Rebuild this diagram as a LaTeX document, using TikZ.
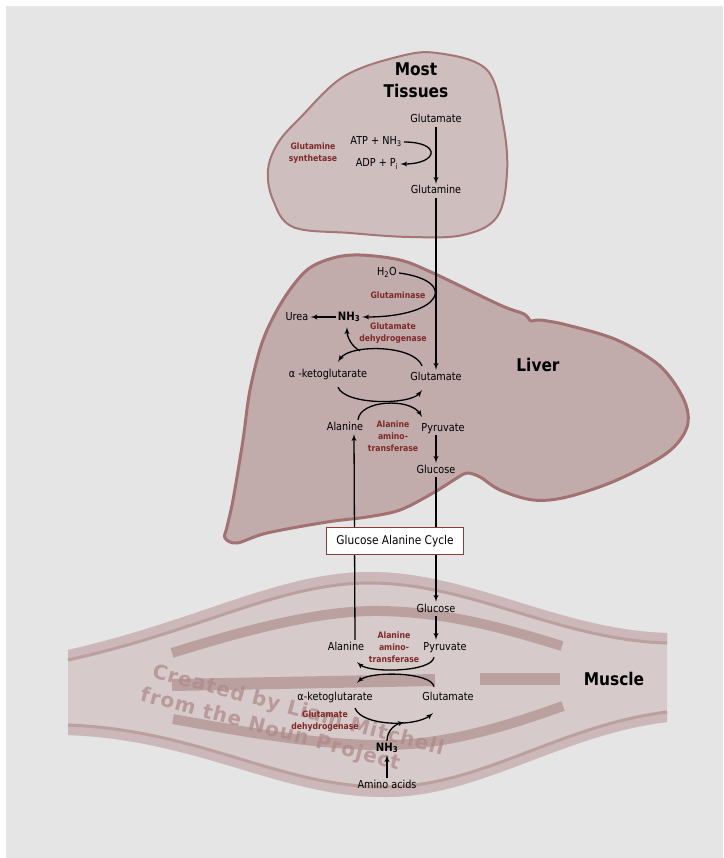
\documentclass[tikz,border=0pt]{standalone}
\usepackage{fontspec}
\setmainfont{DejaVu Sans}[FakeStretch=0.88]
\newfontfamily\markfont{DejaVu Sans}[LetterSpace=5]
\usetikzlibrary{arrows,calc}

\definecolor{bggray}{HTML}{E5E5E5}
\definecolor{tissuefill}{HTML}{CEBEBE}
\definecolor{tissueline}{HTML}{A47676}
\definecolor{liverfill}{HTML}{C1ABAB}
\definecolor{liverline}{HTML}{A27272}
\definecolor{musclefill}{HTML}{D7CACA}
\definecolor{muscleband}{HTML}{CCB8B8}
\definecolor{musclestripe}{HTML}{BBA0A0}
\definecolor{enzred}{HTML}{7F2A2A}
\definecolor{boxline}{HTML}{8B3A3A}
\definecolor{markred}{HTML}{B08A8A}

\begin{document}
\begin{tikzpicture}[x=1pt,y=-1pt,>=latex']
  \tikzset{
    met/.style={inner sep=2pt, text height=8pt, text depth=2pt, font=\fontsize{11}{13}\selectfont},
    ammonia/.style={met, font=\fontsize{11.5}{13}\selectfont\bfseries},
    enzyme/.style={inner sep=1pt, align=center, text=enzred, font=\fontsize{8.8}{12}\selectfont\bfseries},
    organ/.style={align=center, font=\fontsize{17.5}{22}\selectfont\bfseries},
    rxn/.style={->, line width=1.3pt},
    stripe/.style={musclestripe, line width=#1},
    watermark/.style={rotate=-15, text=markred, text opacity=0.75, font=\markfont\bfseries\fontsize{20}{24}\selectfont},
  }
  % background
  \fill[white] (0,0) rectangle (723,858);
  \fill[bggray] (6,6) rectangle (723,858);
  \useasboundingbox (0,0) rectangle (723,858);

  % most tissues
  \draw[tissueline, fill=tissuefill, line width=2pt]
    plot[smooth cycle, tension=0.6] coordinates {
      (437,53) (487,70) (503,123) (507,173) (497,217) (463,235) (410,237)
      (350,233) (293,227) (273,200) (268,170) (278,143) (300,118) (343,77) (397,57)};

  % liver
  \draw[liverline, fill=liverfill, line width=3pt, line join=round]
    plot[smooth cycle, tension=0.55] coordinates {
      (360,255) (400,260) (433,273) (500,305) (524,314) (531,321) (540,320)
      (567,325) (617,340) (660,366) (684,400) (687,427) (667,453) (617,480)
      (567,497) (533,500) (500,490) (480,477) (467,473) (457,478) (433,493)
      (400,510) (367,517) (327,522) (267,533) (237,543) (225,538) (227,527)
      (233,500) (243,440) (250,390) (263,340) (283,300) (307,270) (333,258)};

  % muscle
  \fill[musclefill] (68,650) .. controls (200,620) and (280,572) .. (370,572)
    .. controls (470,572) and (560,630) .. (667,633) -- (667,722)
    .. controls (560,735) and (480,797) .. (385,797)
    .. controls (280,797) and (200,740) .. (68,735) -- cycle;
  \fill[muscleband] (68,650) .. controls (200,620) and (280,572) .. (370,572)
    .. controls (470,572) and (560,630) .. (667,633) -- (667,643)
    .. controls (560,640) and (470,583) .. (370,583)
    .. controls (280,583) and (200,631) .. (68,660) -- cycle;
  \fill[muscleband] (68,735) .. controls (200,740) and (280,797) .. (385,797)
    .. controls (480,797) and (560,735) .. (667,722) -- (667,712)
    .. controls (560,725) and (480,787) .. (385,787)
    .. controls (280,787) and (200,730) .. (68,725) -- cycle;
  \draw[stripe=3] (68,660) .. controls (200,631) and (280,583) .. (370,583)
    .. controls (470,583) and (560,640) .. (667,643);
  \draw[stripe=3] (68,725) .. controls (200,730) and (280,787) .. (385,787)
    .. controls (480,787) and (560,725) .. (667,712);
  \draw[stripe=10] (172,653) .. controls (260,625) and (330,610) .. (380,611)
    .. controls (450,612) and (510,630) .. (562,646);
  \draw[stripe=12] (172,685) -- (435,680);
  \draw[stripe=12] (480,679) -- (560,679);
  \draw[stripe=10] (173,719) .. controls (260,735) and (330,746) .. (390,745)
    .. controls (450,744) and (510,725) .. (563,706);

  \node (wmTop) at (298,711) [watermark] {Created by Liam Mitchell};
  \node (wmBottom) at (270,730) [watermark] {from the Noun Project};

  % most tissues: labels
  \node (tTitle) at (416,80) [organ] {Most\\Tissues};
  \node (tGlu) at (436,120) [met] {Glutamate};
  \node (tAtp) at (376,142) [met] {ATP + NH\textsubscript{3}};
  \node (tAdp) at (377,164) [met] {ADP + P\textsubscript{i}};
  \node (tGln) at (436,191) [met] {Glutamine};
  \node (tEnz) at (313,153) [enzyme] {Glutamine\\synthetase};

  % liver: labels
  \node (lH2O) at (387,273) [met] {H\textsubscript{2}O};
  \node (lGase) at (398,295) [enzyme] {Glutaminase};
  \node (lNH3) at (349,317) [ammonia] {NH\textsubscript{3}};
  \node (lUrea) at (297,317) [met] {Urea};
  \node (lGdh) at (393,333) [enzyme] {Glutamate\\dehydrogenase};
  \node (lKg) at (328,374) [met] {α -ketoglutarate};
  \node (lGlu) at (436,377) [met] {Glutamate};
  \node (lAla) at (345,427) [met] {Alanine};
  \node (lPyr) at (443,428) [met] {Pyruvate};
  \node (lAat) at (393,436) [enzyme] {Alanine\\amino-\\transferase};
  \node (lGlc) at (436,470) [met] {Glucose};
  \node (liver) at (538,365) [organ] {Liver};

  % muscle: labels
  \node (mGlc) at (436,609) [met] {Glucose};
  \node (mAla) at (346,647) [met] {Alanine};
  \node (mPyr) at (445,647) [met] {Pyruvate};
  \node (mAat) at (394,647) [enzyme] {Alanine\\amino-\\transferase};
  \node (mKg) at (335,697) [met] {α-ketoglutarate};
  \node (mGlu) at (448,697) [met] {Glutamate};
  \node (mGdh) at (325,721) [enzyme] {Glutamate\\dehydrogenase};
  \node (mNH3) at (387,748) [ammonia] {NH\textsubscript{3}};
  \node (mAA) at (387,785) [met] {Amino acids};
  \node (muscle) at (614,679) [organ] {Muscle};

  % glutamine synthesis
  \draw[rxn] (tGlu) -- (tGln);
  \draw[rxn] (tAtp.east) .. controls +(38,0) and +(38,0) .. (tAdp.east);
  \draw[rxn] (tGln) -- (lGlu);

  % liver reactions
  \draw[rxn] (lH2O.east) .. controls +(60,8) and +(80,0) .. (lNH3.east);
  \draw[rxn] (lNH3) -- (lUrea);
  \draw[rxn] ([shift={(-14,-4)}]lGlu.north) .. controls +(-8,-21) and +(12,-18)
    .. ([shift={(10,-5)}]lKg.north) coordinate[pos=0.7] (lFork);
  \draw[rxn] (lFork) .. controls +(-8,-4) and +(0,10) .. ([shift={(-2,3)}]lNH3.south);
  \draw[rxn] ([shift={(10,6)}]lKg.south) .. controls +(7,18) and +(-12,15)
    .. ([shift={(-14,6)}]lGlu.south);
  \draw[rxn] ([shift={(13,0)}]lAla.north) .. controls +(2,-20) and +(-12,-19)
    .. ([shift={(-21,-4)}]lPyr.north);
  \draw[rxn] (lPyr.south -| lGlc) -- (lGlc);

  % between the organs
  \draw[rxn] (lGlc) -- (mGlc);
  \draw[rxn] ([xshift=9pt]mAla.north) -- ([xshift=9pt]lAla.south);
  \node (cycle) at (395,541) [draw=boxline, fill=white, line width=1pt, minimum width=137pt,
    minimum height=27pt, font=\fontsize{12}{14}\selectfont] {Glucose Alanine Cycle};

  % muscle reactions
  \draw[rxn] (mGlc) -- (mPyr.north -| mGlc);
  \draw[rxn] ([shift={(-11,3)}]mPyr.south) .. controls +(-2,15) and +(13,11)
    .. ([shift={(11,8)}]mAla.south);
  \draw[rxn] ([shift={(-14,-3)}]mGlu.north) .. controls +(-2,-15) and +(13,-12)
    .. ([shift={(22,-7)}]mKg.north);
  \draw[rxn] ([shift={(20,4)}]mKg.south) .. controls +(7,18) and +(-18,14)
    .. ([shift={(-15,9)}]mGlu.south) coordinate[pos=0.65] (mFork);
  \draw[rxn] (mNH3.north) .. controls +(0,-10) and +(-10,2) .. (mFork);
  \draw[rxn] (mAA) -- (mNH3);
\end{tikzpicture}
\end{document}
